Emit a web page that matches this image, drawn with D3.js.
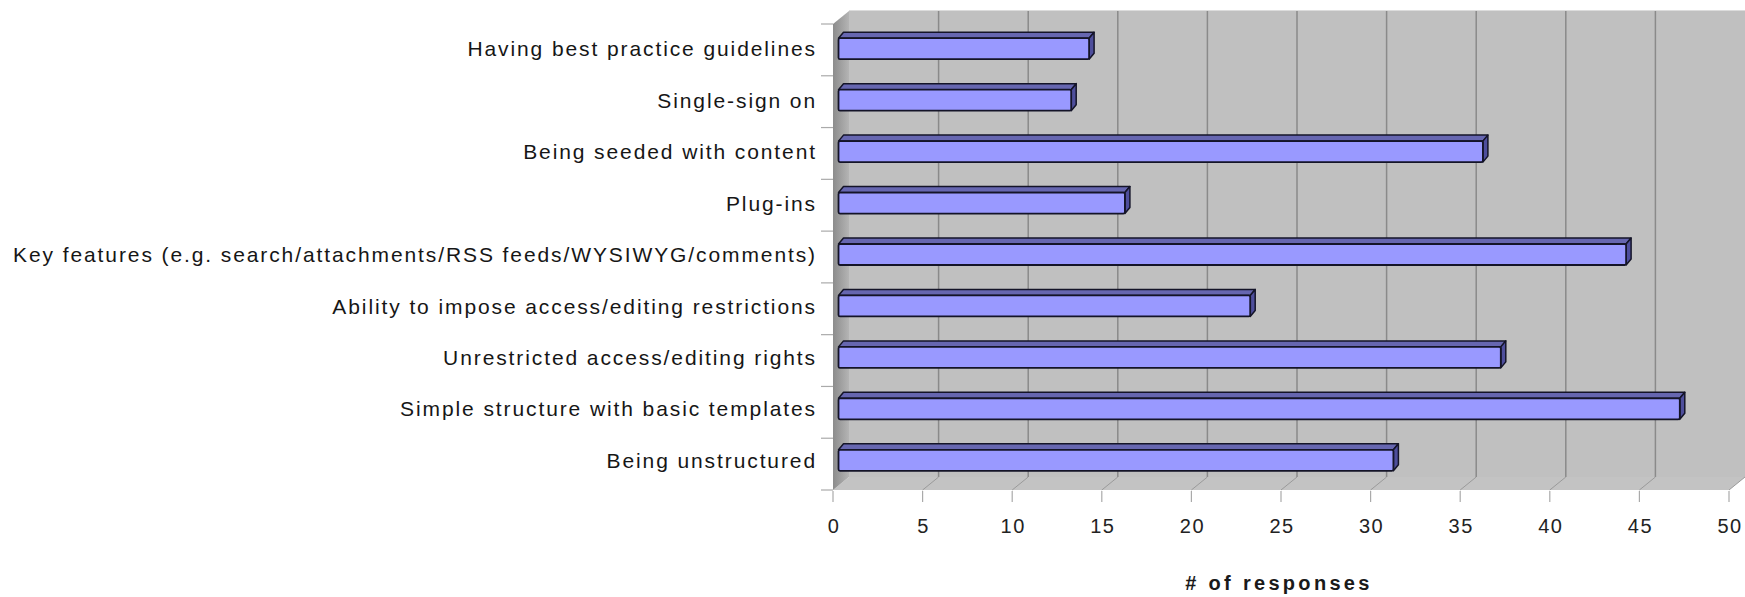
<!DOCTYPE html>
<html>
<head>
<meta charset="utf-8">
<script src="https://cdn.jsdelivr.net/npm/d3@7"></script>
<style>
  body { margin: 0; background: #fff; }
  text { font-family: "Liberation Sans", Arial, sans-serif; }
</style>
</head>
<body>
<svg id="chart"></svg>
<script>
var width = 1745
var height = 597

// data, top to bottom
var categories = ["Having best practice guidelines", "Single-sign on", "Being seeded with content", "Plug-ins",
                  "Key features (e.g. search/attachments/RSS feeds/WYSIWYG/comments)", "Ability to impose access/editing restrictions",
                  "Unrestricted access/editing rights", "Simple structure with basic templates", "Being unstructured"]
var responses = [14, 13, 36, 16, 44, 23, 37, 47, 31]
var xTicks = [0, 5, 10, 15, 20, 25, 30, 35, 40, 45, 50]
var xTitle = "# of responses"

// 3d depth offset of the walls
var depth_x = 16
var depth_y = -13
var floor_y = 490
var top_y = 24

var svg1 = d3.select("#chart").attr("width", width).attr("height", height)

var x = d3.scaleLinear().domain([0, 50]).range([833, 1729])
var xBar = d3.scaleLinear().domain([0, 50]).range([838.5, 838.5 + 895])
var y = d3.scaleBand().domain(categories).range([top_y, floor_y])
var yBar = d3.scaleBand().domain(categories).range([23, 486])

var defs = svg1.append("defs")
var grad = defs.append("linearGradient").attr("id", "sideWall").attr("x1", "0").attr("x2", "1")
grad.append("stop").attr("offset", "0").attr("stop-color", "#8c8c8c")
grad.append("stop").attr("offset", "1").attr("stop-color", "#b4b4b4")

var x0 = x(0), x50 = x(50)
var line = d3.line()

// back wall
svg1.append("path")
    .attr("d", line([[x0 + depth_x, top_y + depth_y], [x50 + depth_x + 20, top_y + depth_y],
                     [x50 + depth_x + 20, floor_y + depth_y], [x0 + depth_x, floor_y + depth_y]]) + "Z")
    .attr("fill", "#c0c0c0")
svg1.append("line")
    .attr("x1", x0 + depth_x).attr("x2", width)
    .attr("y1", top_y + depth_y - 0.5).attr("y2", top_y + depth_y - 0.5)
    .attr("stroke", "#dcdcdc").attr("stroke-width", 1)

// floor
svg1.append("path")
    .attr("d", line([[x0, floor_y], [x0 + depth_x, floor_y + depth_y], [x50 + depth_x, floor_y + depth_y], [x50, floor_y]]) + "Z")
    .attr("fill", "#c3c3c3")

// left wall
svg1.append("path")
    .attr("d", line([[x0, top_y], [x0 + depth_x, top_y + depth_y], [x0 + depth_x, floor_y + depth_y], [x0, floor_y]]) + "Z")
    .attr("fill", "url(#sideWall)")

// grid lines on the back wall and floor
xTicks.filter(t => t > 0 && t < 50).forEach(t => {
    svg1.append("line")
        .attr("x1", x(t) + depth_x).attr("x2", x(t) + depth_x)
        .attr("y1", top_y + depth_y).attr("y2", floor_y + depth_y)
        .attr("stroke", "#8a8a8a").attr("stroke-width", 1.5)
})
xTicks.filter(t => t > 0).forEach(t => {
    svg1.append("line")
        .attr("x1", x(t)).attr("y1", floor_y)
        .attr("x2", x(t) + depth_x).attr("y2", floor_y + depth_y)
        .attr("stroke", "#9a9a9a").attr("stroke-width", 1)
})

// x axis ticks and labels
xTicks.forEach(t => {
    svg1.append("line")
        .attr("x1", x(t)).attr("x2", x(t))
        .attr("y1", floor_y + 1).attr("y2", floor_y + 12)
        .attr("stroke", "#aaaaaa").attr("stroke-width", 1.2)
    svg1.append("text")
        .attr("x", x(t) + 1).attr("y", 533)
        .attr("text-anchor", "middle")
        .attr("font-size", "20px")
        .style("letter-spacing", "1.5px")
        .style("fill", "#222")
        .text(t)
})

svg1.append("text")
    .attr("x", 1279).attr("y", 590)
    .attr("text-anchor", "middle")
    .attr("font-size", "20px")
    .attr("font-weight", "bold")
    .style("letter-spacing", "3.3px")
    .style("fill", "#1a1a1a")
    .text(xTitle)

// category ticks on the left wall
var bounds = categories.map(c => y(c)).concat([floor_y])
bounds.forEach(b => {
    svg1.append("line")
        .attr("x1", 821).attr("x2", x0)
        .attr("y1", b).attr("y2", b)
        .attr("stroke", "#aaaaaa").attr("stroke-width", 1.2)
})

// category labels
categories.forEach(c => {
    svg1.append("text")
        .attr("x", 817).attr("y", yBar(c) + yBar.bandwidth() / 2)
        .attr("dy", "0.36em")
        .attr("text-anchor", "end")
        .attr("font-size", "21px")
        .style("letter-spacing", "1.9px")
        .style("fill", "#161616")
        .text(c)
})

// bars: front face, top face, end face
var barH = 21
var bx = 5, by = -6
categories.forEach((c, i) => {
    var xa = xBar(0), xb = xBar(responses[i])
    var yt = yBar(c) + yBar.bandwidth() / 2 - barH / 2
    var g = svg1.append("g")
    g.append("path")
        .attr("d", line([[xa, yt], [xa + bx, yt + by], [xb + bx, yt + by], [xb, yt]]) + "Z")
        .attr("fill", "#6666b0").attr("stroke", "#141428").attr("stroke-width", 1.5).attr("stroke-linejoin", "round")
    g.append("path")
        .attr("d", line([[xb, yt], [xb + bx, yt + by], [xb + bx, yt + by + barH], [xb, yt + barH]]) + "Z")
        .attr("fill", "#4e4e9c").attr("stroke", "#141428").attr("stroke-width", 1.5).attr("stroke-linejoin", "round")
    g.append("rect")
        .attr("x", xa).attr("y", yt)
        .attr("width", xb - xa).attr("height", barH)
        .attr("rx", 1.5)
        .attr("fill", "#9999ff").attr("stroke", "#141428").attr("stroke-width", 1.8)
})
</script>
</body>
</html>
